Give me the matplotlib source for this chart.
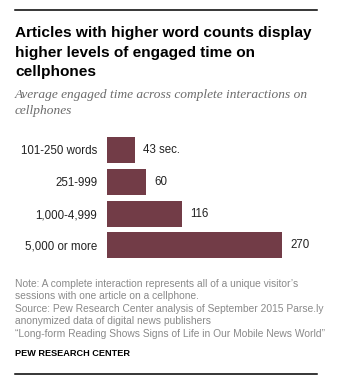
import matplotlib
matplotlib.use("Agg")
import matplotlib.pyplot as plt
from matplotlib.lines import Line2D

categories = ["101-250 words", "251-999", "1,000-4,999", "5,000 or more"]
values = [43, 60, 116, 270]
value_labels = ["43 sec.", "60", "116", "270"]

title_lines = ["Articles with higher word counts display",
               "higher levels of engaged time on",
               "cellphones"]
subtitle_lines = ["Average engaged time across complete interactions on",
                  "cellphones"]
note_lines = ["Note: A complete interaction represents all of a unique visitor\u2019s",
              "sessions with one article on a cellphone.",
              "Source: Pew Research Center analysis of September 2015 Parse.ly",
              "anonymized data of digital news publishers",
              "\u201cLong-form Reading Shows Signs of Life in Our Mobile News World\u201d"]
footer = "PEW RESEARCH CENTER"

W, H = 360, 385
fig = plt.figure(figsize=(W / 100, H / 100), dpi=100)
fig.patch.set_facecolor("white")

def fx(x):
    return x / W

def fy(y):
    return 1 - y / H

# rules
fig.add_artist(Line2D([fx(15), fx(317)], [fy(10), fy(10)], color="black", lw=1.1))
fig.add_artist(Line2D([fx(15), fx(317)], [fy(374), fy(374)], color="black", lw=1.1))

for i, t in enumerate(title_lines):
    fig.text(fx(15), fy(37 + i * 19.7), t, fontsize=11.1, fontweight="bold",
             family="Liberation Sans", color="black", va="baseline", ha="left")

for i, t in enumerate(subtitle_lines):
    fig.text(fx(15), fy(98 + i * 16), t, fontsize=9.6, style="italic",
             family="Liberation Serif", color="#6a6a6a", va="baseline", ha="left")

for i, t in enumerate(note_lines):
    fig.text(fx(15), fy(286.6 + i * 12.5), t, fontsize=7.35,
             family="Liberation Sans", color="#8a8a8a", va="baseline", ha="left")

fig.text(fx(15), fy(356), footer, fontsize=6.6, fontweight="bold",
         family="Liberation Sans", color="black", va="baseline", ha="left")

# bar axes
px_per_unit = 0.65
xmax = 300
ax_left, ax_right = 107, 107 + px_per_unit * xmax
spacing = 31.8
c0 = 150
ax_top = c0 - spacing / 2
ax_bot = c0 + 3 * spacing + spacing / 2
ax = fig.add_axes([fx(ax_left), fy(ax_bot), fx(ax_right - ax_left), (ax_bot - ax_top) / H])
ypos = list(range(len(categories)))
ax.barh(ypos, values, height=26 / spacing, color="#723c47", edgecolor="none")
ax.set_xlim(0, xmax)
ax.set_ylim(len(categories) - 0.5, -0.5)
ax.set_yticks(ypos)
ax.set_yticklabels(categories, fontsize=8.3, family="Liberation Sans", color="#222222")
ax.tick_params(axis="y", length=0, pad=7)
ax.set_xticks([])
for s in ax.spines.values():
    s.set_visible(False)
for y, v, lab in zip(ypos, values, value_labels):
    ax.annotate(lab, (v, y), xytext=(8, 0), textcoords="offset pixels",
                va="center", ha="left", fontsize=8.3, family="Liberation Sans",
                color="#222222")

fig.savefig("out.png", dpi=100, facecolor="white")
